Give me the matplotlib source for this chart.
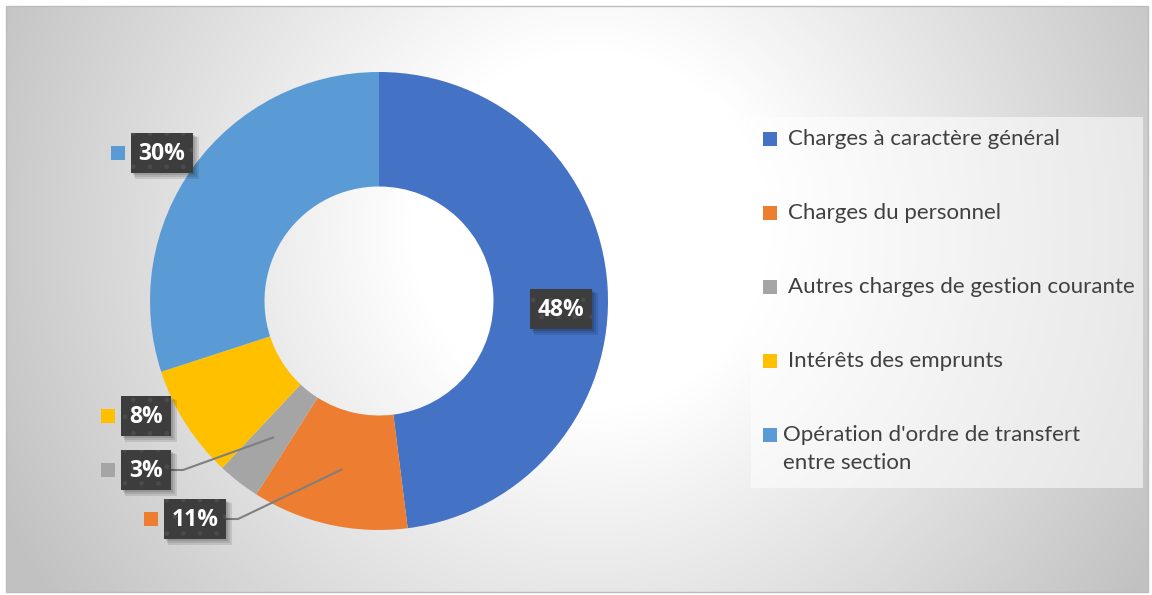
import numpy as np
import matplotlib.pyplot as plt
from matplotlib.patches import Rectangle

# data
categories = ['Charges à caractère général', 'Charges du personnel',
              'Autres charges de gestion courante', 'Intérêts des emprunts',
              "Opération d'ordre de transfert\nentre section"]
shares = [48, 11, 3, 8, 30]
colors = ['#4472C4', '#ED7D31', '#A5A5A5', '#FFC000', '#5B9BD5']

# layout (pixels)
W, H = 1152, 595
CX, CY, R = 379, 301, 229
lab_pos = [(561, 309), (195, 519), (146, 470), (146, 416), (162, 153)]
leader = [False, True, True, False, False]

plt.rcParams['font.family'] = ['Lato', 'DejaVu Sans']
fig = plt.figure(figsize=(W / 100, H / 100), dpi=100)

# background with radial gradient
bg = fig.add_axes([0, 0, 1, 1])
bg.set_xlim(0, W)
bg.set_ylim(H, 0)
bg.axis('off')
yy, xx = np.mgrid[0:H, 0:W]
d = np.hypot(xx - 590, yy - 230)
v = 1 - 0.24 * np.clip((d - 180) / 470, 0, 1)
inside = (xx >= 6) & (xx <= 1148) & (yy >= 6) & (yy <= 592)
v[~inside] = 1.0
bg.imshow(np.dstack([v, v, v]), extent=(0, W, H, 0), interpolation='bilinear', zorder=0)
bg.add_patch(Rectangle((6, 6), 1142, 586, fill=False, ec='#bdbdbd', lw=1, zorder=1))

# donut
ax = fig.add_axes([(CX - R) / W, (H - CY - R) / H, 2 * R / W, 2 * R / H])
wedges, _ = ax.pie(shares, colors=colors, startangle=90, counterclock=False,
                   radius=1, wedgeprops=dict(width=0.5, linewidth=0))
ax.set_xlim(-1, 1)
ax.set_ylim(-1, 1)
ax.axis('off')

# overlay for labels and legend
ov = fig.add_axes([0, 0, 1, 1])
ov.set_xlim(0, W)
ov.set_ylim(H, 0)
ov.axis('off')
ov.patch.set_alpha(0)

for i, (w, s) in enumerate(zip(wedges, shares)):
    lx, ly = lab_pos[i]
    txt = f'{s}%'
    bw = 62 if s >= 10 else 50
    bh = 40
    x0 = lx - bw / 2
    y0 = ly - bh / 2
    if leader[i]:
        th = np.deg2rad((w.theta1 + w.theta2) / 2)
        ex = CX + 0.755 * R * np.cos(th)
        ey = CY - 0.755 * R * np.sin(th)
        ov.plot([x0 + bw, x0 + bw + 12, ex], [ly, ly, ey], color='#7f7f7f', lw=1.5, zorder=3)
    # shadow
    for k, a in enumerate([0.10, 0.10, 0.12]):
        off = 5 - k
        ov.add_patch(Rectangle((x0 + off - 1, y0 + off - 1), bw + 2 - k, bh + 2 - k,
                               fc='black', ec='none', alpha=a, zorder=3))
    ov.add_patch(Rectangle((x0, y0), bw, bh, fc='#3d3d3d', ec='#4b4b4b', lw=0,
                           hatch='.', zorder=4))
    ov.text(lx, ly + 1, txt, color='white', fontsize=16.5, fontweight='bold',
            family=['Open Sans', 'DejaVu Sans'],
            ha='center', va='center', zorder=5)
    ov.add_patch(Rectangle((x0 - 20, ly - 7), 14, 14, fc=colors[i], ec='none', zorder=4))

# legend
ov.add_patch(Rectangle((751, 117), 392, 371, fc='white', ec='none', alpha=0.55, zorder=2))
for i, cat in enumerate(categories):
    ky = 139 + 74 * i
    ov.add_patch(Rectangle((763, ky - 7), 14, 14, fc=colors[i], ec='none', zorder=4))
    lines = cat.split('\n')
    tx = 788 if len(lines) == 1 else 783
    for j, line in enumerate(lines):
        ov.text(tx, ky + 28 * j, line, color='#404040', fontsize=16,
                ha='left', va='center', zorder=5)

fig.savefig('out.png', dpi=100)
